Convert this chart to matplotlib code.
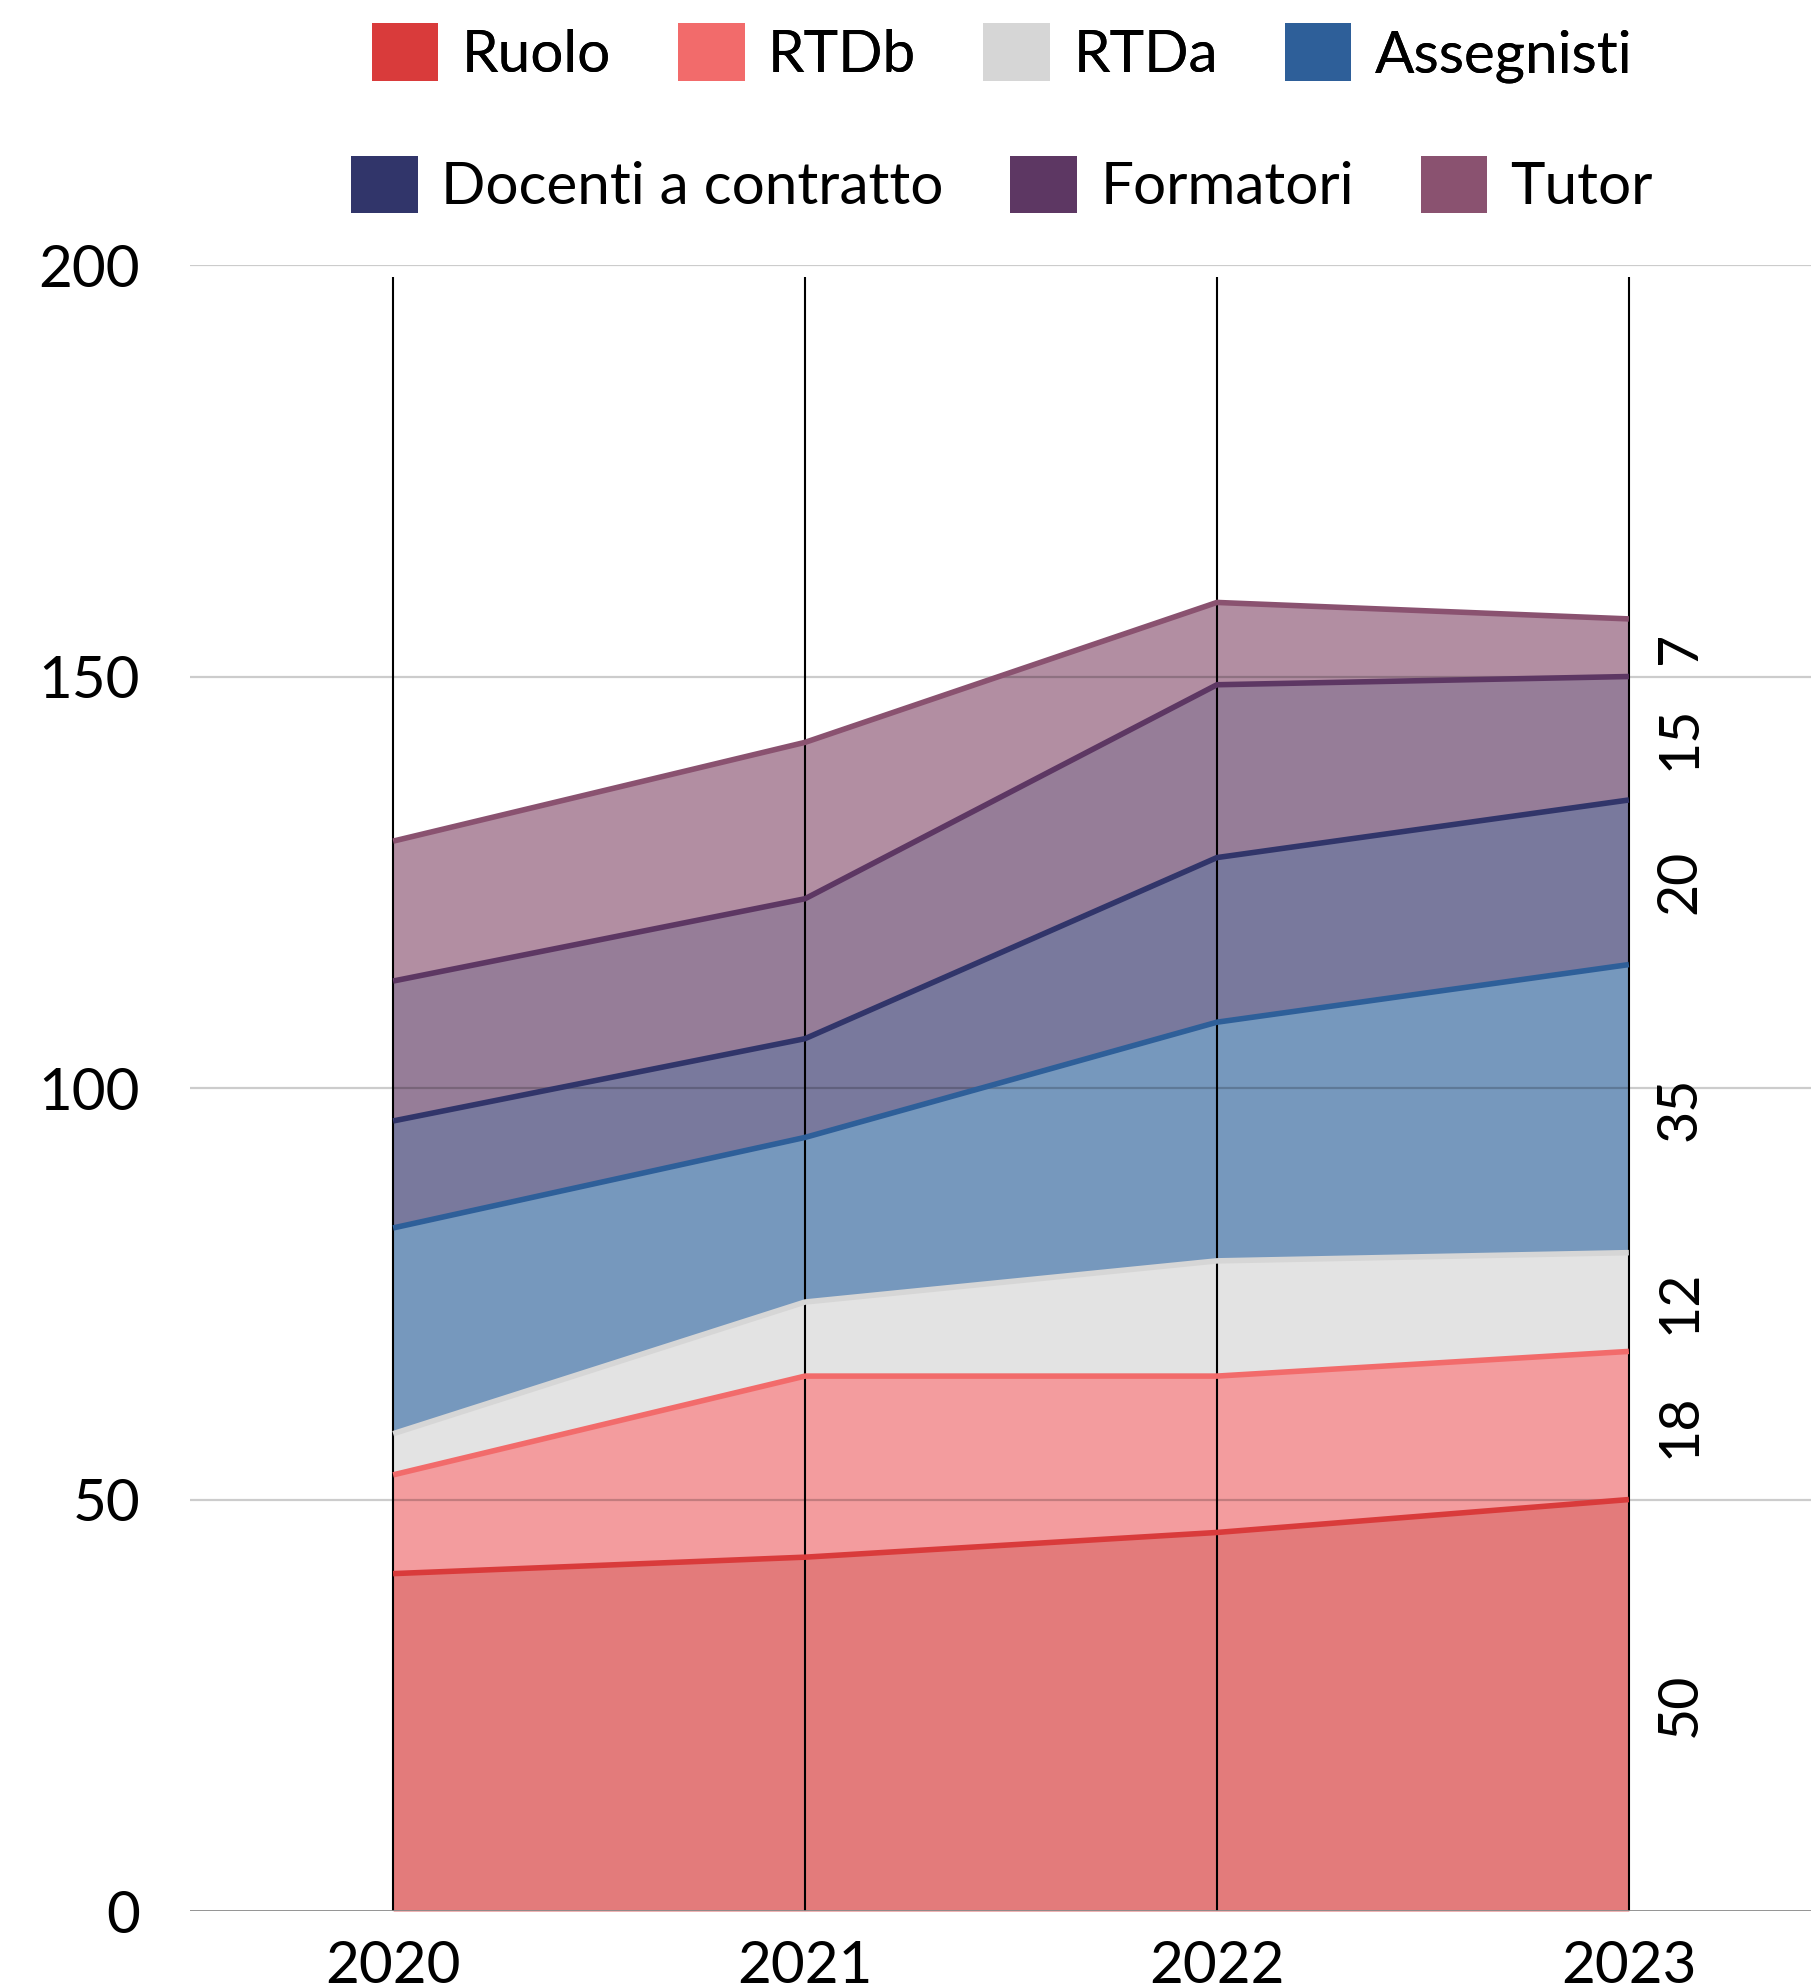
import numpy as np
import matplotlib
matplotlib.use("Agg")
import matplotlib.pyplot as plt
from matplotlib.patches import Patch

plt.rcParams['font.family'] = ['Lato', 'DejaVu Sans']

# data
years = [2020, 2021, 2022, 2023]
series_names = ['Ruolo', 'RTDb', 'RTDa', 'Assegnisti',
                'Docenti a contratto', 'Formatori', 'Tutor']
ruolo = [41, 43, 46, 50]
rtdb = [12, 22, 19, 18]
rtda = [5, 9, 14, 12]
assegnisti = [25, 20, 29, 35]
docenti = [13, 12, 20, 20]
formatori = [17, 17, 21, 15]
tutor = [17, 19, 10, 7]
y_ticks = [0, 50, 100, 150, 200]

line_colors = ['#D93B3B', '#F26B6B', '#D6D6D6', '#2E5F99',
               '#31356A', '#5D3763', '#8A5270']
fill_colors = ['#E37B7B', '#F39C9E', '#E3E3E3', '#7698BD',
               '#79799D', '#967D98', '#B28EA2']

values = np.array([ruolo, rtdb, rtda, assegnisti, docenti, formatori, tutor])
tops = np.cumsum(values, axis=0)
bottoms = tops - values

fig = plt.figure(figsize=(18.12, 19.88), dpi=100)
ax = fig.add_axes([0.1049, 0.0387, 0.8945, 0.828])

for i in range(len(series_names)):
    ax.fill_between(years, bottoms[i], tops[i], color=fill_colors[i],
                    lw=0, zorder=1)
for i in range(len(series_names)):
    ax.plot(years, tops[i], color=line_colors[i], lw=4,
            solid_capstyle='butt', zorder=4)

# grid lines (drawn over the fills, faintly)
for t in y_ticks[1:]:
    ax.axhline(t, color='black', alpha=0.2, lw=1.6, zorder=2)
ax.axhline(0, color='#8a8a8a', lw=2, zorder=5)

# year lines
ax.vlines(years, 0, 198.6, color='black', lw=1.5, zorder=3)

# labels for the last year
for i in range(len(series_names)):
    mid = (bottoms[i][-1] + tops[i][-1]) / 2
    ax.annotate(str(values[i][-1]), xy=(years[-1], mid), xytext=(37, 0),
                textcoords='offset points', rotation=90, fontsize=40,
                ha='center', va='center')

ax.set_xlim(2020 - 0.493, 2023 + 0.442)
ax.set_ylim(0, 200)
ax.set_xticks(years)
ax.set_xticklabels([str(y) for y in years])
ax.set_yticks(y_ticks)
ax.tick_params(axis='both', length=0, labelsize=42)
ax.tick_params(axis='y', pad=36)
ax.tick_params(axis='x', pad=21)
for s in ax.spines.values():
    s.set_visible(False)

handles = [Patch(facecolor=c, edgecolor='none') for c in line_colors]
leg_kw = dict(frameon=False, fontsize=42, handlelength=1.14,
              handleheight=1.14, handletextpad=0.4, columnspacing=1.15,
              loc='center')
leg1 = fig.legend(handles[:4], series_names[:4], ncol=4,
                  bbox_to_anchor=(0.553, 1 - 53 / 1988), **leg_kw)
fig.add_artist(leg1)
fig.legend(handles[4:], series_names[4:], ncol=3,
           bbox_to_anchor=(0.553, 1 - 185 / 1988), **leg_kw)

fig.savefig('out.png', dpi=100)
